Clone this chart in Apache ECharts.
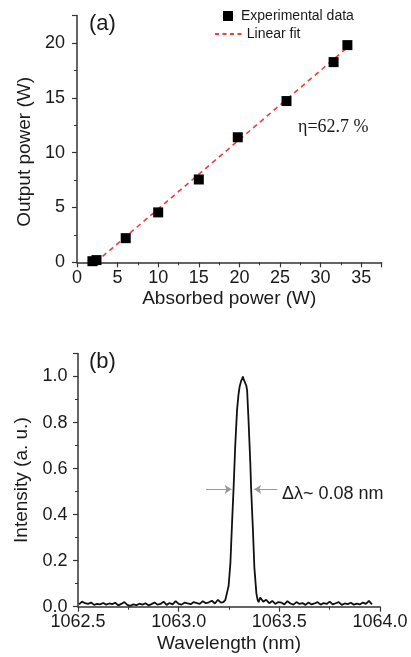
<!DOCTYPE html>
<html><head><meta charset="utf-8">
<script src="https://cdn.jsdelivr.net/npm/echarts@6/dist/echarts.min.js"></script>
<style>html,body{margin:0;padding:0;background:#fff}#c{width:411px;height:657px}</style>
</head><body><div id="c"></div>
<script>
// ---- Panel (a) data ----
const absorbedPower = [1.9, 2.4, 6.0, 10.0, 15.0, 19.8, 25.8, 31.6, 33.3];
const outputPower   = [0.1, 0.2, 2.2, 4.55, 7.55, 11.4, 14.7, 18.25, 19.8];
const fitAbsorbed = [2.3, 33.4];
const fitOutput   = [0.0, 19.65];
const xTicksA = [0, 5, 10, 15, 20, 25, 30, 35];
const yTicksA = [0, 5, 10, 15, 20];

// ---- Panel (b) data ----
const specLeftStart = 1062.505, specStep = 0.015;
const specLeftI = [0.010,0.022,0.015,0.012,0.018,0.008,0.012,0.010,0.016,0.009,0.014,0.011,0.017,0.006,0.012,0.020,
  0.008,0.004,0.010,0.007,0.013,0.009,0.015,0.006,0.011,0.018,0.009,0.012,0.022,0.008,0.016,0.010,
  0.024,0.012,0.009,0.018,0.014,0.011,0.020,0.016,0.012,0.024,0.015,0.019,0.026,0.014,0.030,0.018];
const peakLambda = [1063.222,1063.232,1063.240,1063.248,1063.257,1063.265,1063.273,1063.281,1063.290,1063.297,
  1063.303,1063.310,1063.315,1063.319,1063.322,1063.326,1063.330,1063.336,1063.340,1063.347,1063.356,
  1063.360,1063.369,1063.376,1063.386,1063.392,1063.397];
const peakI = [0.02,0.03,0.06,0.09,0.19,0.36,0.52,0.70,0.855,0.92,0.957,0.98,0.99,1.0,0.99,0.995,0.985,
  0.96,0.94,0.81,0.62,0.51,0.33,0.17,0.058,0.03,0.02];
const specRightStart = 1063.405;
const specRightI = [0.040,0.022,0.030,0.015,0.025,0.012,0.020,0.018,0.010,0.024,0.014,0.009,0.020,0.012,0.016,
  0.008,0.018,0.010,0.014,0.020,0.009,0.016,0.012,0.022,0.010,0.015,0.020,0.008,0.014,0.011,0.017,0.009,
  0.013,0.010,0.018,0.012,0.025,0.010];
const fwhmLevel = 0.51;
const fwhmLeftArrow  = [1063.136, 1063.263];
const fwhmRightArrow = [1063.490, 1063.375];

const scatterData = absorbedPower.map((x, i) => [x, outputPower[i]]);
const fitData = fitAbsorbed.map((x, i) => [x, fitOutput[i]]);
const specData = [];
specLeftI.forEach((v, i) => specData.push([+(specLeftStart + i * specStep).toFixed(3), v]));
peakLambda.forEach((x, i) => specData.push([x, peakI[i]]));
specRightI.forEach((v, i) => specData.push([+(specRightStart + i * specStep).toFixed(3), v]));

const FONT = 'Liberation Sans, Arial, sans-serif';
const TXT = '#1a1a1a';
const AX = '#333';
const RED = '#f03c3c';

function axisCommon(extra) {
  return Object.assign({
    type: 'value',
    axisLine: { show: true, onZero: false, lineStyle: { color: AX, width: 1.5 } },
    axisTick: { show: true, inside: false, length: 5, lineStyle: { color: AX, width: 1.2 } },
    minorTick: { show: true, splitNumber: 2, length: 3, lineStyle: { color: AX, width: 1 } },
    splitLine: { show: false },
    minorSplitLine: { show: false },
    nameLocation: 'middle',
    nameTextStyle: { fontSize: 19, color: TXT, fontFamily: FONT },
    axisLabel: { fontSize: 18, color: TXT, fontFamily: FONT, showMaxLabel: false }
  }, extra);
}

const chart = echarts.init(document.getElementById('c'), null, { renderer: 'canvas' });
chart.setOption({
  animation: false,
  backgroundColor: '#fff',
  grid: [
    { left: 77, right: 29.5, top: 15.5, height: 246.8, containLabel: false, outerBoundsMode: 'none' },
    { left: 78, right: 31, top: 353.5, height: 253.2, containLabel: false, outerBoundsMode: 'none' }
  ],
  xAxis: [
    axisCommon({ gridIndex: 0, min: 0, max: 37.5, interval: 5, name: 'Absorbed power (W)', nameGap: 27,
      axisLabel: { fontSize: 18, color: TXT, fontFamily: FONT, margin: 6.5, showMaxLabel: false,
        formatter: v => xTicksA.includes(v) ? String(v) : '' } }),
    axisCommon({ gridIndex: 1, min: 1062.5, max: 1064.0, interval: 0.5, name: 'Wavelength (nm)', nameGap: 28,
      axisLabel: { fontSize: 18, color: TXT, fontFamily: FONT, margin: 6, showMaxLabel: true, showMinLabel: true,
        formatter: v => v.toFixed(1) } })
  ],
  yAxis: [
    axisCommon({ gridIndex: 0, min: 0, max: 22.5, interval: 5, name: 'Output power (W)', nameGap: 39.5,
      nameTextStyle: { fontSize: 19, color: TXT, fontFamily: FONT, padding: [0, 26, 0, 0] },
      axisLabel: { fontSize: 18, color: TXT, fontFamily: FONT, margin: 12, showMaxLabel: false,
        formatter: v => yTicksA.includes(v) ? String(v) : '' } }),
    axisCommon({ gridIndex: 1, min: 0, max: 1.1, interval: 0.2, name: 'Intensity (a. u.)', nameGap: 46.5,
      axisLabel: { fontSize: 18, color: TXT, fontFamily: FONT, margin: 10.5, showMaxLabel: false,
        formatter: v => (Math.abs(v - 1.1) < 1e-6 ? '' : v.toFixed(1)) } })
  ],
  legend: [
    { data: [{ name: 'Experimental data', icon: 'rect', itemStyle: { color: '#000', opacity: 1 } }],
      left: 223, top: 9, padding: 0, itemWidth: 10, itemHeight: 10,
      itemGap: 0, textStyle: { fontSize: 14, color: TXT, fontFamily: FONT, padding: [0, 0, 0, 3] }, selectedMode: false },
    { data: [{ name: 'Linear fit', icon: 'path://M0 0h4v2h-4z M7.5 0h4v2h-4z M15 0h4v2h-4z M22.5 0h4v2h-4z',
        itemStyle: { color: RED } }],
      left: 215, top: 27, padding: 0, itemWidth: 27, itemHeight: 2,
      textStyle: { fontSize: 14, color: TXT, fontFamily: FONT }, selectedMode: false }
  ],
  series: [
    { name: 'Linear fit', type: 'line', xAxisIndex: 0, yAxisIndex: 0, data: fitData, showSymbol: false, symbol: 'none',
      lineStyle: { color: RED, width: 1.6, type: [5, 4] }, itemStyle: { color: RED }, z: 2, silent: true },
    { name: 'Experimental data', type: 'scatter', xAxisIndex: 0, yAxisIndex: 0, data: scatterData,
      symbol: 'rect', symbolSize: 10, itemStyle: { color: '#000', opacity: 1 }, z: 3 },
    { name: 'Spectrum', type: 'line', xAxisIndex: 1, yAxisIndex: 1, data: specData, showSymbol: false, symbol: 'none',
      lineStyle: { color: '#111', width: 1.8 }, silent: true,
      markLine: {
        silent: true, symbol: ['none', 'arrow'], symbolSize: 7, animation: false,
        label: { show: false },
        lineStyle: { color: '#999', width: 1, type: 'solid' },
        emphasis: { disabled: true },
        data: [
          [{ coord: [fwhmLeftArrow[0], fwhmLevel] }, { coord: [fwhmLeftArrow[1], fwhmLevel] }],
          [{ coord: [fwhmRightArrow[0], fwhmLevel] }, { coord: [fwhmRightArrow[1], fwhmLevel] }]
        ]
      } }
  ],
  graphic: [
    { type: 'text', x: 89, y: 24, style: { text: '(a)', fontSize: 22, fontFamily: FONT, fill: TXT, verticalAlign: 'middle' } },
    { type: 'text', x: 89, y: 362, style: { text: '(b)', fontSize: 22, fontFamily: FONT, fill: TXT, verticalAlign: 'middle' } },
    { type: 'text', x: 298, y: 127, style: { text: 'η=62.7 %', fontSize: 18, fontFamily: 'Liberation Serif, Times New Roman, serif', fill: TXT, verticalAlign: 'middle' } },
    { type: 'text', x: 282, y: 494, style: { text: 'Δλ~ 0.08 nm', fontSize: 18, fontFamily: FONT, fill: TXT, verticalAlign: 'middle' } }
  ]
});
</script>
</body></html>
